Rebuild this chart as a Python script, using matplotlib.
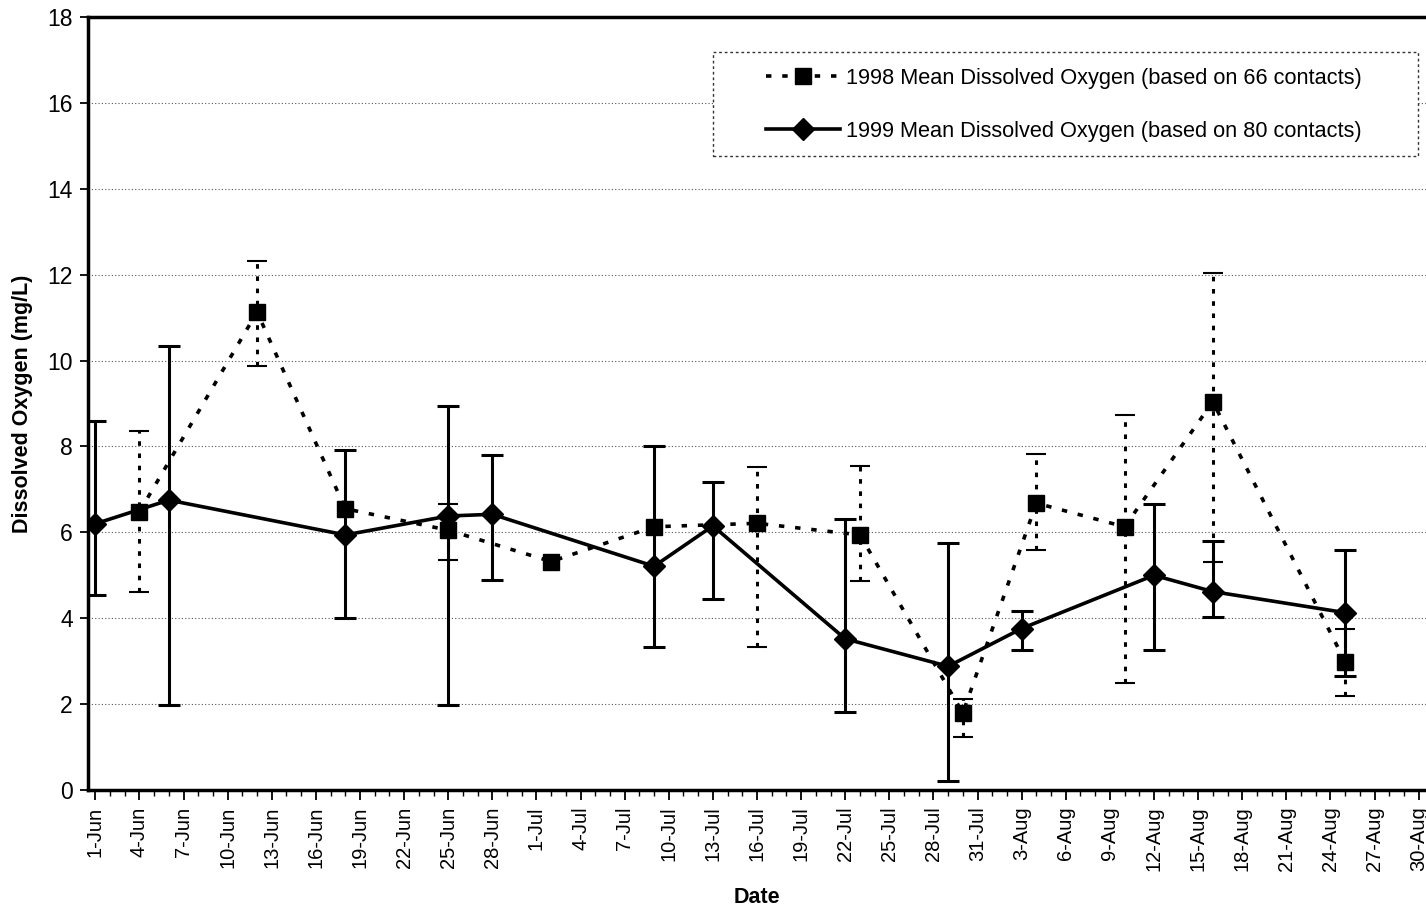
import matplotlib
matplotlib.use("Agg")
import matplotlib.pyplot as plt
import matplotlib.dates as mdates
import numpy as np
import pandas as pd
from matplotlib.lines import Line2D
from matplotlib.patches import Rectangle

plt.rcParams['font.family'] = ['Liberation Sans', 'DejaVu Sans']

# 1998 series (dotted, squares)
dates_1998 = ["4-Jun", "12-Jun", "18-Jun", "25-Jun", "2-Jul", "9-Jul", "16-Jul",
              "23-Jul", "30-Jul", "4-Aug", "10-Aug", "16-Aug", "25-Aug"]
mean_1998 = [6.48, 11.13, 6.55, 6.05, 5.32, 6.13, 6.21, 5.94, 1.79, 6.68, 6.13, 9.04, 2.99]
low_1998 = [4.61, 9.88, np.nan, 5.35, np.nan, np.nan, 3.32, 4.86, 1.23, 5.60, 2.49, 5.30, 2.20]
high_1998 = [8.37, 12.32, np.nan, 6.65, np.nan, np.nan, 7.53, 7.55, 2.12, 7.82, 8.73, 12.05, 3.75]

# 1999 series (solid, diamonds)
dates_1999 = ["1-Jun", "6-Jun", "18-Jun", "25-Jun", "28-Jun", "9-Jul", "13-Jul",
              "22-Jul", "29-Jul", "3-Aug", "12-Aug", "16-Aug", "25-Aug"]
mean_1999 = [6.20, 6.75, 5.94, 6.38, 6.42, 5.21, 6.15, 3.52, 2.88, 3.76, 5.00, 4.62, 4.13]
low_1999 = [4.55, 1.98, 4.00, 1.98, 4.90, 3.32, 4.44, 1.81, 0.22, 3.26, 3.25, 4.02, 2.65]
high_1999 = [8.60, 10.35, 7.91, 8.95, 7.81, 8.02, 7.18, 6.32, 5.76, 4.16, 6.65, 5.80, 5.58]

label_1998 = "1998 Mean Dissolved Oxygen (based on 66 contacts)"
label_1999 = "1999 Mean Dissolved Oxygen (based on 80 contacts)"

YEAR = 1999


def to_dt(lst):
    return pd.to_datetime([f"{d}-{YEAR}" for d in lst], format="%d-%b-%Y")


d98 = to_dt(dates_1998)
d99 = to_dt(dates_1999)

W, H = 1426, 911
fig = plt.figure(figsize=(W / 100, H / 100), dpi=100)
AX_L, AX_R, AX_T, AX_B = 88, 1426, 17, 790
ax = fig.add_axes([AX_L / W, (H - AX_B) / H, (AX_R - AX_L) / W, (AX_B - AX_T) / H])


def px2ax(px, py):
    return ((px - AX_L) / (AX_R - AX_L), (AX_B - py) / (AX_B - AX_T))


x_start = pd.Timestamp(f"{YEAR}-06-01") - pd.Timedelta(hours=12)
x_end = pd.Timestamp(f"{YEAR}-08-30") + pd.Timedelta(hours=12)
ax.set_xlim(x_start, x_end)
ax.set_ylim(0, 18)

# grid
ax.set_yticks(np.arange(0, 19, 2))
ax.yaxis.grid(True, color='#555555', linestyle=(0, (1, 2)), linewidth=0.8)
ax.set_axisbelow(True)

m98 = np.array(mean_1998)
m99 = np.array(mean_1999)
lo98 = m98 - np.array(low_1998)
hi98 = np.array(high_1998) - m98
lo99 = m99 - np.array(low_1999)
hi99 = np.array(high_1999) - m99

dot_style = (0, (1.5, 3))

# 1998 error bars (dotted)
eb98 = ax.errorbar(d98, m98, yerr=[lo98, hi98], fmt='none', ecolor='black',
                   elinewidth=2.2, capsize=7, capthick=1.5, zorder=3)
for lc in eb98[2]:
    lc.set_linestyle((0, (1.5, 2.5)))

# 1999 error bars (solid)
ax.errorbar(d99, m99, yerr=[lo99, hi99], fmt='none', ecolor='black',
            elinewidth=2.2, capsize=8, capthick=2.2, zorder=4)

# lines
ax.plot(d98, m98, color='black', linestyle=dot_style, linewidth=2.6,
        marker='s', markersize=11, markerfacecolor='black', markeredgecolor='black', zorder=5)
ax.plot(d99, m99, color='black', linestyle='-', linewidth=2.6,
        marker='D', markersize=11, markerfacecolor='black', markeredgecolor='black', zorder=6)

# x ticks
ticks = pd.date_range(f"{YEAR}-06-01", f"{YEAR}-08-30", freq="3D")
ax.set_xticks(ticks)
ax.set_xticklabels([f"{t.day}-{t.strftime('%b')}" for t in ticks], rotation=90,
                   fontsize=14.5)
ax.xaxis.set_minor_locator(mdates.DayLocator())
ax.tick_params(axis='x', which='major', direction='out', length=7, width=1.3, pad=5)
ax.tick_params(axis='x', which='minor', direction='out', length=4, width=1.0)
ax.tick_params(axis='y', which='major', direction='out', length=6, width=1.3,
               labelsize=16.5, pad=5)

for s in ['left', 'top', 'bottom']:
    ax.spines[s].set_linewidth(2.5)
    ax.spines[s].set_color('black')
ax.spines['right'].set_visible(False)

ax.set_ylabel("Dissolved Oxygen (mg/L)", fontsize=15.5, fontweight='bold', labelpad=10)
ax.set_xlabel("Date", fontsize=15.5, fontweight='bold', labelpad=11)

# legend box (drawn separately for wider horizontal padding)
bx0, by0 = px2ax(713, 156)
bx1, by1 = px2ax(1418, 52)
ax.add_patch(Rectangle((bx0, by0), bx1 - bx0, by1 - by0, transform=ax.transAxes,
                       facecolor='white', edgecolor='#333333', linewidth=1.0,
                       linestyle=(0, (2, 2)), zorder=7))

handles = [
    Line2D([0], [0], color='black', linestyle=dot_style, linewidth=2.6,
           marker='s', markersize=11),
    Line2D([0], [0], color='black', linestyle='-', linewidth=2.6,
           marker='D', markersize=11),
]
leg = ax.legend(handles, [label_1998, label_1999], loc='upper left',
                bbox_to_anchor=px2ax(766, 68),
                fontsize=15.7, frameon=False, handlelength=3.4,
                handletextpad=0.25, labelspacing=1.45, borderpad=0,
                borderaxespad=0)
leg.set_zorder(8)

fig.savefig("out.png", dpi=100)
